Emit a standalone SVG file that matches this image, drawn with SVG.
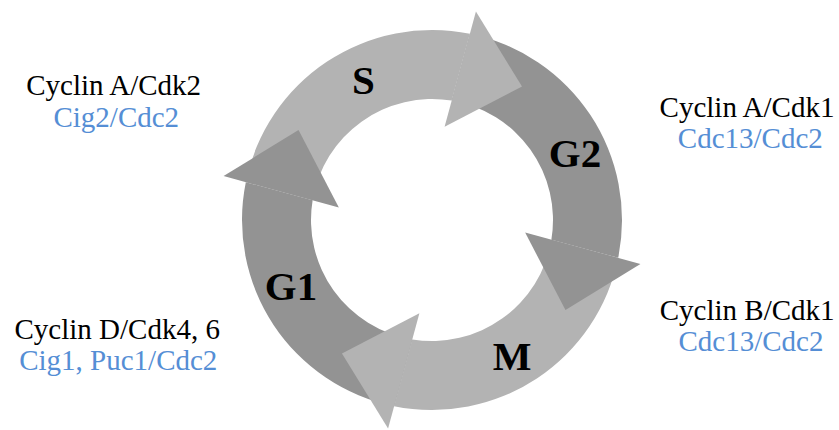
<svg xmlns="http://www.w3.org/2000/svg" width="839" height="430" viewBox="0 0 839 430">
  <style>
    .light { fill: #b3b3b3; }
    .dark { fill: #939393; }
    .phase { font-family: "Liberation Serif", "Times New Roman", serif; font-weight: bold; font-size: 41px; fill: #000; text-anchor: middle; }
    .cyclin { font-family: "Liberation Serif", "Times New Roman", serif; font-size: 29px; text-anchor: middle; }
    .mammal { fill: #000; }
    .yeast { fill: #558ed5; }
  </style>
  <defs>
    <!-- one quarter of the ring, drawn for the phase at 0..90 degrees around the centre -->
    <path id="band" d="M37.87,-186.19 A190,190 0 0 1 186.19,37.87 L119.38,19.72 A121,121 0 0 0 19.72,-119.38 Z"/>
    <!-- arrowhead closing that quarter, pointing clockwise -->
    <path id="head" d="M93.15,12.6 L208.42,43.92 L133.47,90.03 Z"/>
  </defs>

  <!-- cycle phases: ring segments and their labels -->
  <g id="phase-G2">
    <use href="#band" class="dark" transform="translate(432 220)"/>
    <text class="phase" x="575" y="167">G2</text>
  </g>
  <g id="phase-M">
    <use href="#band" class="light" transform="translate(432 220) rotate(90)"/>
    <text class="phase" x="512" y="370">M</text>
  </g>
  <g id="phase-G1">
    <use href="#band" class="dark" transform="translate(432 220) rotate(180)"/>
    <text class="phase" x="291" y="299.5">G1</text>
  </g>
  <g id="phase-S">
    <use href="#band" class="light" transform="translate(432 220) rotate(270)"/>
    <text class="phase" x="363.5" y="94">S</text>
  </g>

  <!-- arrowheads, each lying over the start of the following phase -->
  <g id="connectors">
    <use href="#head" class="dark" transform="translate(432 220)"/>
    <use href="#head" class="light" transform="translate(432 220) rotate(90)"/>
    <use href="#head" class="dark" transform="translate(432 220) rotate(180)"/>
    <use href="#head" class="light" transform="translate(432 220) rotate(270)"/>
  </g>

  <!-- cyclin/CDK complexes active in each stage -->
  <g id="cdk-G1-S" class="cyclin">
    <text class="mammal" x="113.7" y="94.5">Cyclin A/Cdk2</text>
    <text class="yeast" x="116.3" y="126.5">Cig2/Cdc2</text>
  </g>
  <g id="cdk-G2" class="cyclin">
    <text class="mammal" x="747" y="116.5">Cyclin A/Cdk1</text>
    <text class="yeast" x="750.3" y="148">Cdc13/Cdc2</text>
  </g>
  <g id="cdk-M" class="cyclin">
    <text class="mammal" x="747.2" y="319.5">Cyclin B/Cdk1</text>
    <text class="yeast" x="751" y="351">Cdc13/Cdc2</text>
  </g>
  <g id="cdk-G1" class="cyclin">
    <text class="mammal" x="117.2" y="338.5">Cyclin D/Cdk4, 6</text>
    <text class="yeast" x="118.3" y="370">Cig1, Puc1/Cdc2</text>
  </g>
</svg>
